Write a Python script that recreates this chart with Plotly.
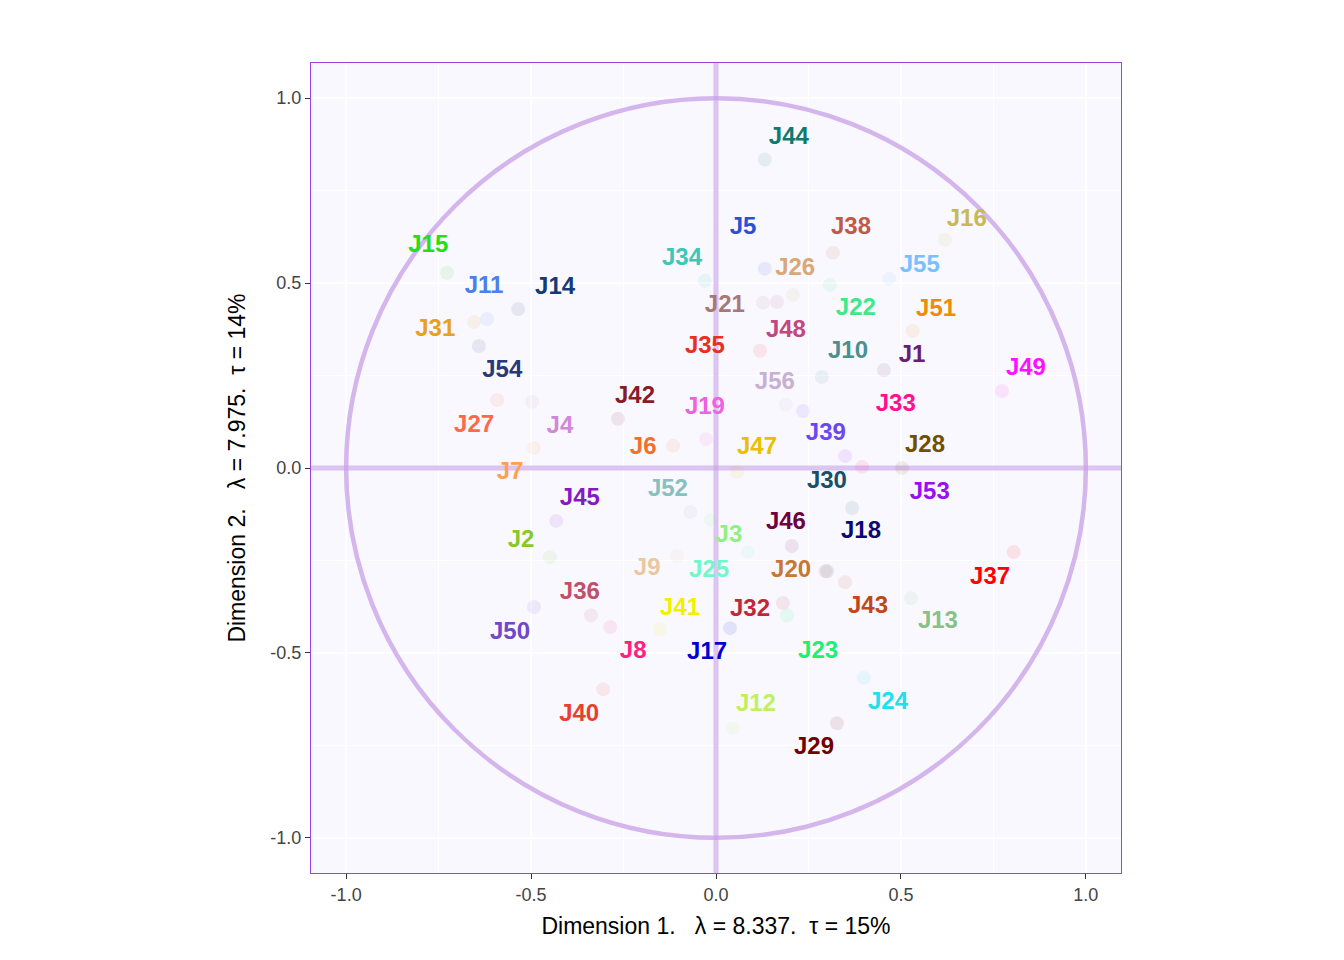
import plotly.graph_objects as go

labels = ["J44","J5","J38","J16","J15","J34","J26","J55","J11","J14","J21","J22","J51","J31","J48","J35","J10","J1","J54","J49","J56","J42","J33","J19","J27","J4","J39","J6","J47","J28","J7","J52","J30","J53","J45","J46","J18","J3","J2","J9","J25","J20","J37","J36","J41","J32","J43","J13","J50","J8","J17","J23","J24","J12","J40","J29"]
label_px = [(789,137),(743,227),(851,227),(967,219),(428,245),(682,258),(795,268),(920,265),(484,286),(555,287),(725,305),(856,308),(936,309),(435,329),(786,330),(705,346),(848,351),(912,355),(502,370),(1026,368),(775,382),(635,396),(896,404),(705,407),(474,425),(560,426),(826,433),(643,447),(757,447),(925,445),(510,472),(668,489),(827,481),(930,492),(580,498),(786,522),(861,531),(729,535),(521,540),(647,568),(709,570),(791,570),(990,577),(580,592),(680,608),(750,609),(868,606),(938,621),(510,632),(633,651),(707,652),(818,651),(888,702),(756,704),(579,714),(814,747)]
point_px = [(765,159),(765,268),(833,252),(945,239),(447,272),(705,280),(793,294),(889,278),(487,318),(518,308),(763,302),(830,284),(913,330),(474,321),(777,301),(760,350),(822,376),(884,369),(479,345),(1002,390),(786,404),(618,418),(862,466),(706,438),(497,399),(532,401),(803,410),(673,445),(737,471),(902,467),(534,447),(690,511),(852,507),(845,455),(556,520),(792,545),(827,570),(711,519),(550,556),(677,555),(748,551),(825,570),(1014,551),(591,614),(660,628),(783,602),(845,581),(911,597),(534,606),(610,626),(730,627),(787,614),(864,677),(733,727),(603,688),(837,722)]
colors = ["#117a6f","#2b4fd6","#c05a48","#c8b85a","#22e012","#3cc8b8","#d8a878","#78c0ff","#4a80e8","#143a78","#a87878","#40e888","#f08c00","#e8a020","#c04880","#e83020","#4a9090","#6a2070","#283878","#ff10ff","#c8b0d0","#8a1a28","#ff1090","#f060e0","#ff6848","#d088d8","#6a48f0","#f07030","#e8c000","#705000","#ffa050","#88c0c0","#185068","#9810f0","#8818c0","#700040","#0a0a70","#90f080","#88c828","#e8c8a0","#70f8c8","#c87830","#ff0000","#c05068","#f0f000","#c02838","#c04818","#88c088","#7048c8","#ff2080","#0000d0","#20f070","#20e0f0","#c0f060","#e84030","#700000"]

def dx(p): return (p - 716) / 370.0
def dy(p): return (467 - p) / 369.5

pt_x = [round(dx(p[0]), 3) for p in point_px]
pt_y = [round(dy(p[1]), 3) for p in point_px]
lab_x = [round(dx(p[0]), 3) for p in label_px]
lab_y = [round(dy(p[1]), 3) for p in label_px]

fig = go.Figure()
circ = "#c8a0e8"
fig.add_shape(type="circle", x0=-1, y0=-1, x1=1, y1=1, line=dict(color=circ, width=4.5), opacity=0.75, layer="between")
fig.add_shape(type="line", x0=-1.1, x1=1.1, y0=0, y1=0, line=dict(color=circ, width=5), opacity=0.6, layer="between")
fig.add_shape(type="line", y0=-1.1, y1=1.1, x0=0, x1=0, line=dict(color=circ, width=5), opacity=0.6, layer="between")
fig.add_trace(go.Scatter(x=pt_x, y=pt_y, mode="markers", marker=dict(size=14, color=colors, opacity=0.09), hoverinfo="skip"))
fig.add_trace(go.Scatter(x=lab_x, y=lab_y, mode="text", text=["<b>%s</b>" % l for l in labels],
                         textfont=dict(family="Liberation Sans, Arial", size=24, color=colors)))
ax = dict(range=[-1.095, 1.095], tickvals=[-1, -0.5, 0, 0.5, 1], ticktext=["-1.0","-0.5","0.0","0.5","1.0"],
          showgrid=True, gridcolor="white", gridwidth=1.5, zeroline=False, showline=True, linecolor="#a040e0", mirror=True,
          ticks="outside", ticklen=5, tickcolor="#333", tickfont=dict(size=18, color="#444"),
          minor=dict(tickvals=[-0.75,-0.25,0.25,0.75], showgrid=True, gridcolor="white", gridwidth=1))
fig.update_layout(width=1344, height=960, showlegend=False, paper_bgcolor="white", plot_bgcolor="#f9f8fe",
                  font=dict(family="Liberation Sans, Arial", color="black"),
                  margin=dict(l=303, r=231, t=55, b=95),
                  xaxis=dict(ax, title=dict(text="Dimension 1.   λ = 8.337.  τ = 15%", font=dict(size=23), standoff=14)),
                  yaxis=dict(ax, title=dict(text="Dimension 2.   λ = 7.975.  τ = 14%", font=dict(size=23), standoff=18)))
fig.write_html("out.html")
